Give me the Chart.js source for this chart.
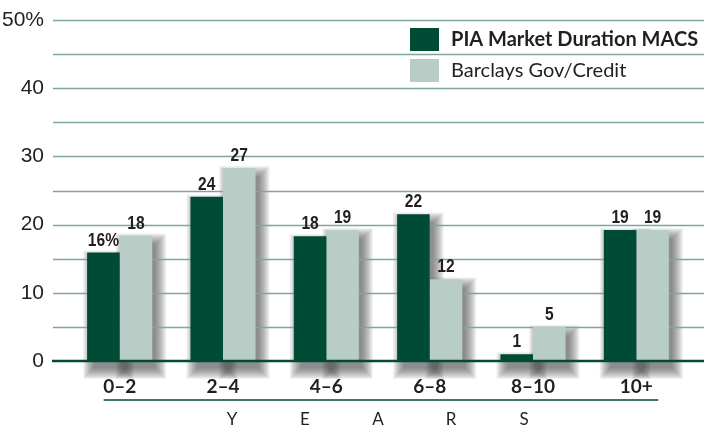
<!DOCTYPE html>
<html>
<head>
<meta charset="utf-8">
<script src="https://cdn.jsdelivr.net/npm/chart.js@4.4.1/dist/chart.umd.min.js"></script>
<style>
  html, body { margin: 0; padding: 0; background: #fff; }
</style>
</head>
<body>
<canvas id="chart" width="704" height="428"></canvas>
<script>
// data
const categories = ['0–2', '2–4', '4–6', '6–8', '8–10', '10+'];
const piaValues = [15.9, 24.1, 18.3, 21.5, 1.0, 19.2];
const barclaysValues = [18.4, 28.3, 19.2, 12.0, 5.0, 19.2];
// numbers printed over the bars
const piaLabels = ['16%', '24', '18', '22', '1', '19'];
const barclaysLabels = ['18', '27', '19', '12', '5', '19'];
const yLabelTicks = [0, 10, 20, 30, 40, 50];
const axisWord = ['Y', 'E', 'A', 'R', 'S'];

const DARK = '#004b35';
const LIGHT = '#b7cdc6';
const GRID = '#7da798';
const TEXT = '#231f20';
const SANS = "Lato, 'Liberation Sans', sans-serif";
const ARIAL = "'Liberation Sans', Arial, sans-serif";

// text squeezed horizontally, the reference uses a condensed face
function narrowText(ctx, str, x, y, squeeze) {
  ctx.save();
  ctx.translate(x, y);
  ctx.scale(squeeze, 1);
  ctx.fillText(str, 0, 0);
  ctx.restore();
}

const decorations = {
  id: 'decorations',
  beforeDatasetsDraw(chart) {
    const ctx = chart.ctx;
    const y = chart.scales.y;
    ctx.save();
    // soft drop shadow behind every bar, built from stacked translucent rects
    ctx.fillStyle = 'rgba(40,40,40,0.06)';
    chart.data.datasets.forEach((ds, i) => {
      chart.getDatasetMeta(i).data.forEach(el => {
        const left = el.x - el.width / 2 + 5;
        const top = el.y + 7;
        const h = el.base - el.y + 2;
        for (let s = 9; s >= -2; s--) {
          ctx.fillRect(left - s, top - s, el.width + 2 * s, h + 2 * s);
        }
      });
    });
    // grid lines every 5, running the full width
    ctx.strokeStyle = GRID;
    ctx.lineWidth = 1.5;
    for (let v = 5; v <= 50; v += 5) {
      const py = Math.round(y.getPixelForValue(v)) + 0.5;
      ctx.beginPath();
      ctx.moveTo(53, py);
      ctx.lineTo(704, py);
      ctx.stroke();
    }
    ctx.restore();
  },
  afterDatasetsDraw(chart) {
    const ctx = chart.ctx;
    const x = chart.scales.x;
    const y = chart.scales.y;
    const y0 = y.getPixelForValue(0);

    // base line
    ctx.save();
    ctx.strokeStyle = DARK;
    ctx.lineWidth = 2.5;
    ctx.beginPath();
    ctx.moveTo(52, y0);
    ctx.lineTo(704, y0);
    ctx.stroke();

    // values over bars
    ctx.fillStyle = TEXT;
    ctx.font = 'bold 19px ' + ARIAL;
    ctx.textAlign = 'center';
    ctx.textBaseline = 'alphabetic';
    const printed = [piaLabels, barclaysLabels];
    chart.data.datasets.forEach((ds, i) => {
      chart.getDatasetMeta(i).data.forEach((el, j) => {
        narrowText(ctx, printed[i][j], el.x, el.y - 7, 0.82);
      });
    });

    // legend
    chart.data.datasets.forEach((ds, i) => {
      const top = 28 + i * 31;
      ctx.fillStyle = ds.backgroundColor;
      ctx.fillRect(410, top, 29, 23);
      ctx.fillStyle = TEXT;
      ctx.textAlign = 'left';
      ctx.textBaseline = 'middle';
      ctx.font = (i === 0 ? 'bold ' : '') + '20px ' + SANS;
      ctx.fillText(ds.label, 451, top + 12);
    });

    // underline below the category labels and the spaced-out word
    const first = x.getPixelForValue(0);
    const last = x.getPixelForValue(categories.length - 1);
    ctx.strokeStyle = DARK;
    ctx.lineWidth = 1.5;
    ctx.beginPath();
    ctx.moveTo(first - 16, 400);
    ctx.lineTo(last + 22, 400);
    ctx.stroke();

    const mid = (first + last) / 2;
    ctx.fillStyle = TEXT;
    ctx.font = '17px ' + SANS;
    ctx.textAlign = 'center';
    ctx.textBaseline = 'alphabetic';
    axisWord.forEach((ch, i) => {
      ctx.fillText(ch, mid + (i - 2) * 73, 425);
    });
    ctx.restore();
  }
};

new Chart(document.getElementById('chart'), {
  type: 'bar',
  data: {
    labels: categories,
    datasets: [
      {
        label: 'PIA Market Duration MACS',
        data: piaValues,
        backgroundColor: DARK,
        barPercentage: 1,
        categoryPercentage: 0.63
      },
      {
        label: 'Barclays Gov/Credit',
        data: barclaysValues,
        backgroundColor: LIGHT,
        barPercentage: 1,
        categoryPercentage: 0.63
      }
    ]
  },
  options: {
    responsive: false,
    animation: false,
    layout: { padding: { left: 0, right: 16, top: 20, bottom: 27 } },
    plugins: {
      legend: { display: false },
      tooltip: { enabled: false }
    },
    scales: {
      x: {
        grid: { display: false, drawTicks: false },
        border: { display: false },
        ticks: {
          color: TEXT,
          padding: 14,
          font: { family: SANS, size: 19, weight: 'bold' }
        },
        afterFit(scale) {
          scale.height = 40;
          scale.paddingLeft = 0;
          scale.paddingRight = 0;
        }
      },
      y: {
        min: 0,
        max: 50,
        grid: { display: false, drawTicks: false },
        border: { display: false },
        ticks: {
          stepSize: 5,
          padding: 24,
          color: TEXT,
          font: { family: ARIAL, size: 21 },
          callback: v => yLabelTicks.includes(v) ? (v === 50 ? '50%' : String(v)) : ''
        },
        afterFit(scale) {
          scale.width = 68;
          scale.paddingTop = 0;
          scale.paddingBottom = 0;
        }
      }
    }
  },
  plugins: [decorations]
});
</script>
</body>
</html>
